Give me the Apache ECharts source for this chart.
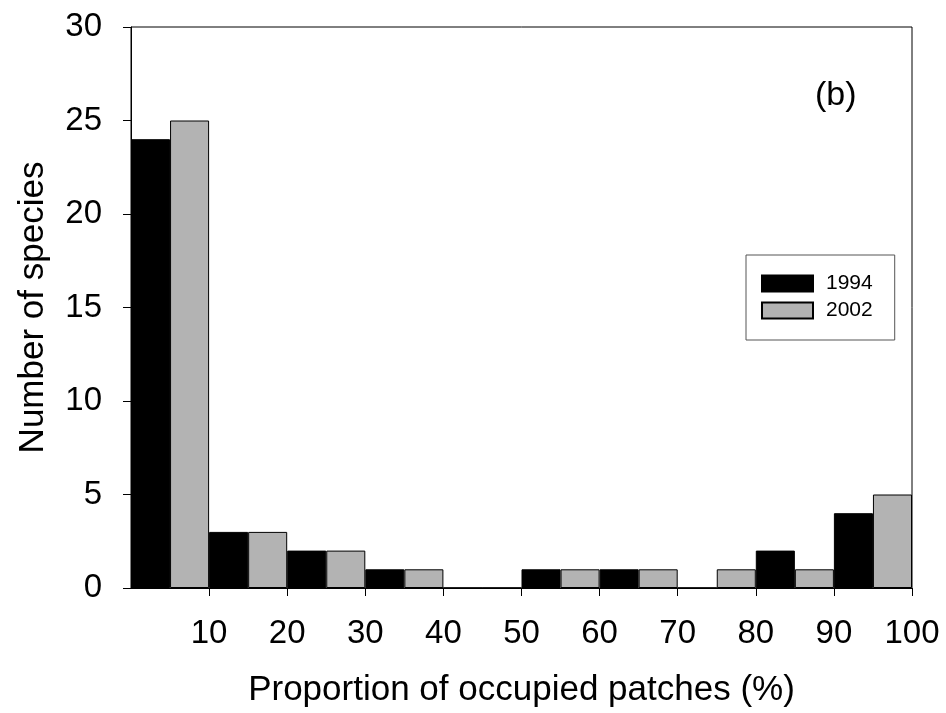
<!DOCTYPE html>
<html>
<head>
<meta charset="utf-8">
<script src="https://cdn.jsdelivr.net/npm/echarts@6/dist/echarts.min.js"></script>
<style>
  html, body { margin: 0; padding: 0; background: #fff; }
  #chart { width: 946px; height: 713px; }
</style>
</head>
<body>
<div id="chart"></div>
<script>
// Occupancy classes (10 % bins) and number of species per class
const bins = ['0-10', '10-20', '20-30', '30-40', '40-50', '50-60', '60-70', '70-80', '80-90', '90-100'];
const species1994 = [24, 3, 2, 1, 0, 1, 1, 0, 2, 4];
const species2002 = [25, 3, 2, 1, 0, 1, 1, 1, 1, 5];
const xTicks = [10, 20, 30, 40, 50, 60, 70, 80, 90, 100];
const yTicks = [0, 5, 10, 15, 20, 25, 30];

const FONT = '"Liberation Sans", Arial, sans-serif';

const chart = echarts.init(document.getElementById('chart'), null, { renderer: 'canvas' });

chart.setOption({
  animation: false,
  backgroundColor: '#fff',
  textStyle: { fontFamily: FONT, color: '#000' },
  title: {
    text: '(b)',
    left: 810,
    top: 74,
    textStyle: { fontFamily: FONT, fontSize: 34, fontWeight: 'normal', color: '#000' }
  },
  legend: {
    orient: 'vertical',
    left: 746,
    top: 255,
    padding: [18, 22, 19, 15],
    itemGap: 6,
    itemWidth: 51,
    itemHeight: 16,
    borderColor: '#555',
    borderWidth: 1,
    icon: 'rect',
    textStyle: { fontFamily: FONT, fontSize: 21, color: '#000', padding: [0, 0, 0, 8] },
    data: ['1994', '2002']
  },
  grid: {
    left: 131,
    top: 27,
    right: 34,
    bottom: 125,
    show: true,
    borderColor: '#000',
    borderWidth: 1,
    backgroundColor: 'transparent'
  },
  xAxis: [
    {
      type: 'category',
      data: bins,
      show: false,
      boundaryGap: true
    },
    {
      type: 'value',
      min: 0,
      max: 100,
      interval: 10,
      position: 'bottom',
      name: 'Proportion of occupied patches (%)',
      nameLocation: 'middle',
      nameGap: 85,
      nameTextStyle: { fontFamily: FONT, fontSize: 35, color: '#000' },
      axisLine: { show: true, lineStyle: { color: '#000', width: 1 } },
      axisTick: { show: true, inside: false, length: 8, customValues: xTicks, lineStyle: { color: '#000' } },
      axisLabel: { customValues: xTicks, margin: 29, fontFamily: FONT, fontSize: 33, color: '#000' },
      splitLine: { show: false }
    }
  ],
  yAxis: {
    type: 'value',
    min: 0,
    max: 30,
    interval: 5,
    name: 'Number of species',
    nameLocation: 'middle',
    nameGap: 80,
    nameTextStyle: { fontFamily: FONT, fontSize: 35, color: '#000' },
    axisLine: { show: true, lineStyle: { color: '#000', width: 1 } },
    axisTick: { show: true, inside: false, length: 8, customValues: yTicks, lineStyle: { color: '#000' } },
    axisLabel: { customValues: yTicks, margin: 29, fontFamily: FONT, fontSize: 33, color: '#000' },
    splitLine: { show: false }
  },
  series: [
    {
      name: '1994',
      type: 'bar',
      xAxisIndex: 0,
      data: species1994,
      barGap: '0%',
      barCategoryGap: '0%',
      itemStyle: { color: '#000', borderColor: '#000', borderWidth: 1 }
    },
    {
      name: '2002',
      type: 'bar',
      xAxisIndex: 0,
      data: species2002,
      barGap: '0%',
      barCategoryGap: '0%',
      itemStyle: { color: '#b3b3b3', borderColor: '#000', borderWidth: 1 }
    }
  ]
});
</script>
</body>
</html>
